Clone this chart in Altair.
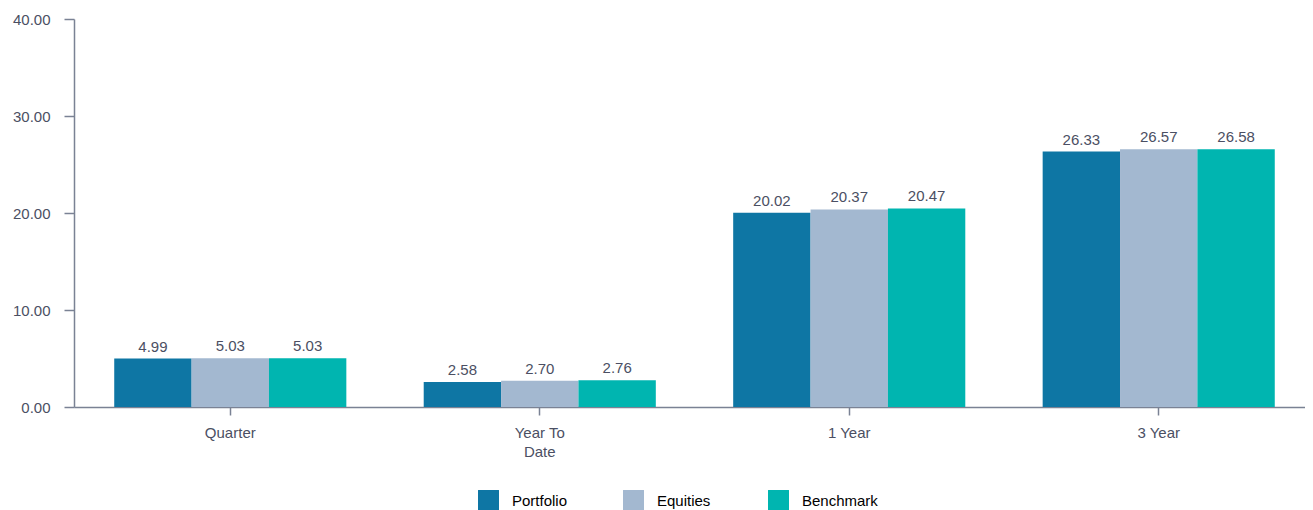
import altair as alt
import pandas as pd

periods = ["Quarter", "Year To Date", "1 Year", "3 Year"]
series = ["Portfolio", "Equities", "Benchmark"]
portfolio = [4.99, 2.58, 20.02, 26.33]
equities = [5.03, 2.70, 20.37, 26.57]
benchmark = [5.03, 2.76, 20.47, 26.58]
colors = ["#0e76a4", "#a3b8d0", "#00b5b0"]

rows = []
for i, p in enumerate(periods):
    for s, vals in zip(series, [portfolio, equities, benchmark]):
        rows.append({"period": p, "series": s, "value": vals[i]})
df = pd.DataFrame(rows)

FONT = "Liberation Sans"
AXIS_COLOR = "#7a8294"
LABEL_COLOR = "#4b4f63"
FS = 15

x = alt.X("period:N", sort=periods, title=None,
          scale=alt.Scale(paddingInner=0.25, paddingOuter=0.13, range=[0, 1241]),
          axis=alt.Axis(labelAngle=0, labelFontSize=FS, labelColor=LABEL_COLOR,
                        labelFont=FONT, domainColor=AXIS_COLOR, tickColor=AXIS_COLOR,
                        tickSize=8, labelPadding=10, domainWidth=1.5, tickWidth=1.5,
                        labelLineHeight=19,
                        labelExpr="datum.value == 'Year To Date' ? ['Year To', 'Date'] : datum.value"))
xoff = alt.XOffset("series:N", sort=series)
y = alt.Y("value:Q", title=None,
          scale=alt.Scale(domain=[0, 40], nice=False),
          axis=alt.Axis(values=[0, 10, 20, 30, 40], format=".2f", grid=False,
                        labelFontSize=FS, labelColor=LABEL_COLOR, labelFont=FONT,
                        domainColor=AXIS_COLOR, tickColor=AXIS_COLOR, tickSize=10,
                        labelPadding=14, domainWidth=1.5, tickWidth=1.5))

bars = alt.Chart(df).mark_bar().encode(
    x=x, xOffset=xoff, y=y,
    color=alt.Color("series:N", sort=series,
                    scale=alt.Scale(domain=series, range=colors),
                    legend=alt.Legend(title=None, orient="none", legendX=404, legendY=471,
                                      direction="horizontal", symbolType="square",
                                      symbolSize=440, symbolStrokeWidth=0,
                                      labelFontSize=FS, labelColor="#000000", labelFont=FONT,
                                      labelOffset=13, columnPadding=35, gridAlign="all",
                                      symbolOpacity=1)),
)

labels = alt.Chart(df).mark_text(baseline="bottom", dy=-4, fontSize=FS,
                                 color=LABEL_COLOR, font=FONT).encode(
    x=x, xOffset=xoff, y=y,
    text=alt.Text("value:Q", format=".2f"),
)

chart = alt.layer(bars, labels).properties(
    width=1231, height=388,
    autosize=alt.AutoSizeParams(type="none"),
    padding={"left": 66, "top": 11, "right": 0, "bottom": 103},
).configure_view(stroke=None)

chart.save("out.html", embed_options={"renderer": "svg", "actions": False})
